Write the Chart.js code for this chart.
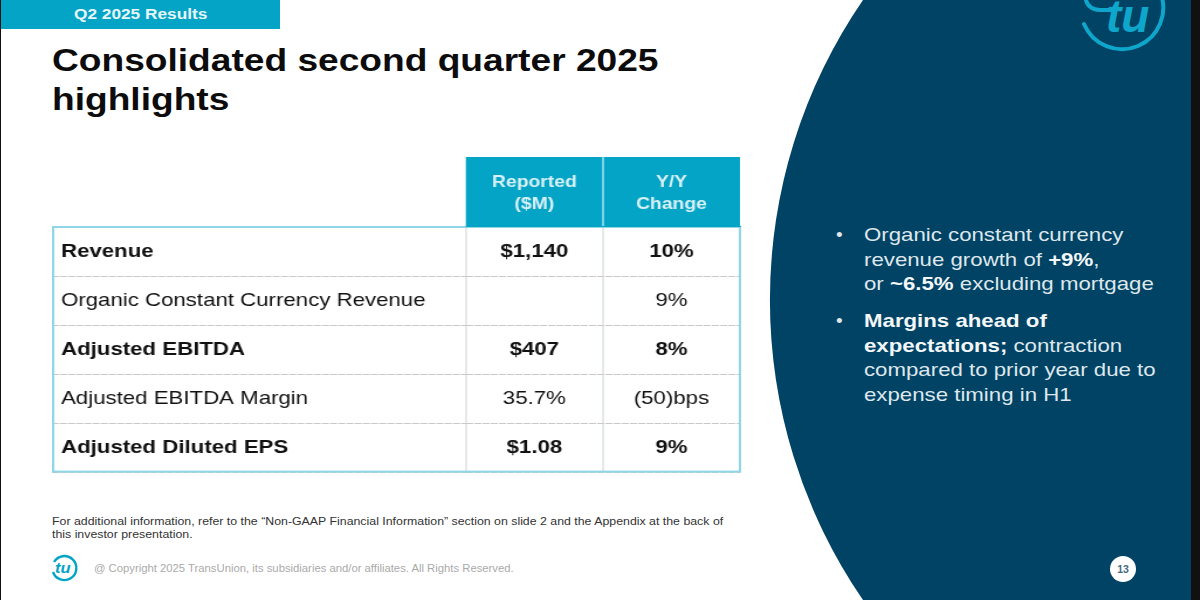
<!DOCTYPE html>
<html>
<head>
<meta charset="utf-8">
<style>
html,body{margin:0;padding:0;background:#fff;}
#slide{position:relative;width:1200px;height:604px;overflow:hidden;background:#fff;font-family:"Liberation Sans",Arial,sans-serif;filter:blur(.35px);}
#slide div,#slide svg,#slide canvas{position:absolute;}
.wide{transform-origin:0 0;white-space:nowrap;}
#tag{left:1px;top:0;width:279px;height:29px;background:#04a4c6;}
#tagText{left:74px;top:0;color:#e6f6fa;font-size:14.5px;font-weight:bold;line-height:29px;transform:scaleX(1.19);}
#title{left:52px;top:41px;font-size:32px;font-weight:bold;line-height:39px;color:#0c0c0c;transform:scaleX(1.16);}
#note{left:52px;top:515px;font-size:10.5px;line-height:12.5px;color:#333;transform:scaleX(1.175);}
#copy{left:94px;top:562px;font-size:10.2px;line-height:14px;color:#aaa;transform:scaleX(1.108);}
#tu2{left:55px;top:559px;font:italic bold 15px "Liberation Sans",sans-serif;color:#04a4c6;transform:scaleX(1.1);}
#tu1{left:1106px;top:-11px;font:italic bold 46px "Liberation Sans",sans-serif;color:#0fa6cb;transform:scaleX(1.0);}
.b{left:864px;color:#dfe7ec;font-size:19px;line-height:24.5px;transform:scaleX(1.17);}
.b b{color:#f4f7f9;}
.dot{left:836px;color:#dfe7ec;font-size:19px;line-height:24.5px;}
#pg{left:1110px;top:556px;width:26px;height:26px;border-radius:50%;background:#fff;color:#456a80;font-size:10.5px;font-weight:bold;line-height:26px;text-align:center;}
#edgeL{left:0;top:0;width:1px;height:604px;background:#111;}
#edgeR{left:1191px;top:0;width:9px;height:604px;background:#111;}
#edgeB{left:0;top:600px;width:1200px;height:4px;background:#fff;}
#chart{transform-origin:0 0;transform:scaleX(1.17);}
</style>
</head>
<body>
<div id="slide">
  <svg width="1200" height="604" style="left:0;top:0">
    <path d="M863 0 A530 530 0 0 0 863 600 L1200 600 L1200 0 Z" fill="#004365"/>
    <path d="M1084 24 A41 41 0 1 0 1160 -8" fill="none" stroke="#0fa6cb" stroke-width="4" stroke-linecap="round"/>
    <path d="M1086 0 Q1088 9 1100 10 L1112 10" fill="none" stroke="#0fa6cb" stroke-width="4" stroke-linecap="round"/>
    <path d="M54 562 A12 12 0 1 1 53 572" fill="none" stroke="#04a4c6" stroke-width="2.4"/>
  </svg>
  <div id="tu1" class="wide">tu</div>
  <div id="tu2" class="wide">tu</div>
  <div id="tag"></div>
  <div id="tagText" class="wide">Q2 2025 Results</div>
  <div id="title" class="wide">Consolidated second quarter 2025<br>highlights</div>
  <canvas id="chart" width="598" height="330" style="left:52px;top:157px;width:598px;height:330px"></canvas>
  <div id="note" class="wide">For additional information, refer to the “Non-GAAP Financial Information” section on slide 2 and the Appendix at the back of<br>this investor presentation.</div>
  <div id="copy" class="wide">@ Copyright 2025 TransUnion, its subsidiaries and/or affiliates.  All Rights Reserved.</div>
  <div class="dot" style="top:223px">•</div>
  <div class="b wide" style="top:223px">Organic constant currency<br>revenue growth of <b>+9%</b>,<br>or <b>~6.5%</b> excluding mortgage</div>
  <div class="dot" style="top:309px">•</div>
  <div class="b wide" style="top:309px"><b>Margins ahead of<br>expectations;</b> contraction<br>compared to prior year due to<br>expense timing in H1</div>
  <div id="pg">13</div>
  <div id="edgeL"></div><div id="edgeR"></div><div id="edgeB"></div>
</div>
<script src="https://cdn.jsdelivr.net/npm/chart.js@4"></script>
<script>
// ===== TABLE DATA =====
const columns = [["Reported","($M)"],["Y/Y","Change"]];
const rows = ["Revenue","Organic Constant Currency Revenue","Adjusted EBITDA","Adjusted EBITDA Margin","Adjusted Diluted EPS"];
const boldRows = ["Revenue","Adjusted EBITDA","Adjusted Diluted EPS"];
const reported = ["$1,140","","$407","35.7%","$1.08"];
const yoyChange = ["10%","9%","8%","(50)bps","9%"];

const TEAL = "#04a4c6", EDGE = "#8fd6e6", FONT = '"Liberation Sans", Arial, sans-serif';

// header fill, outer box and cell text
const tablePlugin = {
  id: "table",
  beforeDraw(c){
    const {ctx, chartArea:a, scales:{x}} = c;
    ctx.save();
    ctx.fillStyle = TEAL;
    ctx.fillRect(a.left, 0, a.right-a.left, a.top);
    ctx.fillStyle = "#7fd0e4";
    ctx.fillRect(Math.round(x.getPixelForValue(0.5))-1, 0, 2, a.top);
    ctx.restore();
  },
  afterDatasetsDraw(c){
    const {ctx, chartArea:a, scales:{x,y}} = c;
    ctx.save();
    ctx.strokeStyle = EDGE;
    ctx.lineWidth = 2;
    ctx.strokeRect(1, a.top, a.right-1, a.bottom-a.top-1);
    ctx.fillStyle = TEAL;
    ctx.fillRect(a.left, a.top-1, a.right-a.left+1, 1);
    ctx.textAlign = "center";
    ctx.textBaseline = "middle";
    ctx.fillStyle = "#111";
    c.data.datasets.forEach(ds=>{
      ds.cellText.forEach((t,i)=>{
        ctx.font = (boldRows.includes(rows[i]) ? "bold " : "") + "19px " + FONT;
        ctx.fillText(t, x.getPixelForValue(ds.data[i].x), y.getPixelForValue(i));
      });
    });
    ctx.restore();
  }
};

function cells(col, texts){
  return texts.map((t,i)=>({x:col, y:rows[i]}));
}

function initChart(){
  const ctx = document.getElementById("chart").getContext("2d");
  return new Chart(ctx, {
    type: "scatter",
    plugins: [tablePlugin],
    data: {
      datasets: [
        {label:"Reported", data:cells(0,reported), cellText:reported, pointRadius:0},
        {label:"Y/Y Change", data:cells(1,yoyChange), cellText:yoyChange, pointRadius:0}
      ]
    },
    options: {
      responsive:false, animation:false, events:[],
      layout:{padding:{left:7.7,right:10,top:0,bottom:14}},
      plugins:{legend:{display:false},tooltip:{enabled:false}},
      scales:{
        x:{
          type:"category", position:"top", labels:columns, offset:true,
          afterFit(s){ s.height = 70; },
          grid:{offset:true, drawTicks:false, color:"#e6e8e9", lineWidth:2},
          border:{display:false},
          ticks:{color:"#d9f1f7", padding:12, maxRotation:0, font:{family:FONT,size:16.5,weight:"bold",lineHeight:1.3}}
        },
        y:{
          type:"category", labels:rows, offset:true,
          afterFit(s){ s.width = 346; },
          grid:{offset:true, color:"#c9c9c9", tickColor:"#c9c9c9", tickLength:354, lineWidth:1, tickWidth:1, tickBorderDash:[6,1]},
          border:{display:false, dash:[6,1]},
          ticks:{crossAlign:"far", color:"#111", font(c){
            return {family:FONT,size:19,weight:boldRows.includes(rows[c.index]) ? "bold" : "normal"};
          }}
        }
      }
    }
  });
}

initChart();
</script>
</body>
</html>
